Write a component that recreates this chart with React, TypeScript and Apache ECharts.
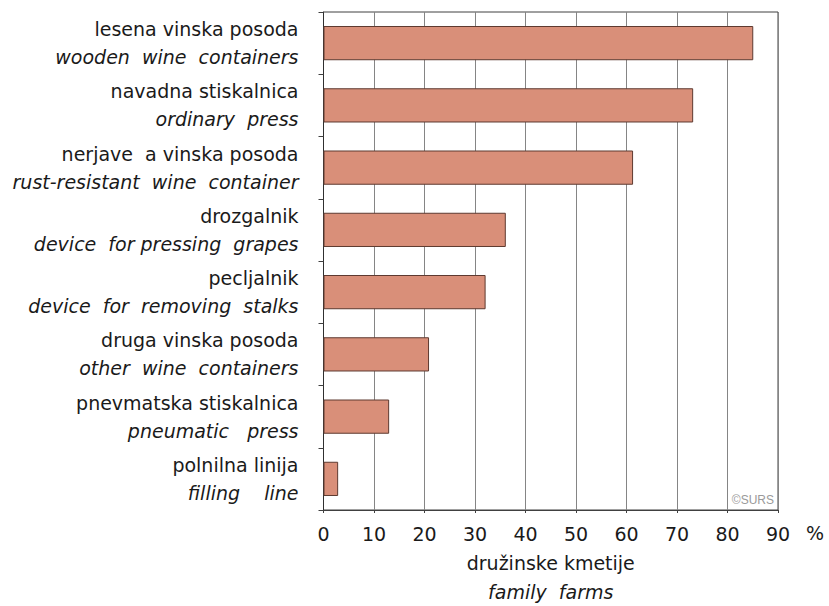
import React, { useEffect, useRef } from "react";
import * as echarts from "echarts";

const S = "\u00a0";
const categoriesSl: string[] = [
  "lesena vinska posoda",
  "navadna stiskalnica",
  "nerjave" + S + S + "a vinska posoda",
  "drozgalnik",
  "pecljalnik",
  "druga vinska posoda",
  "pnevmatska stiskalnica",
  "polnilna linija",
];
const categoriesEn: string[] = [
  "wooden" + S + S + "wine" + S + S + "containers",
  "ordinary" + S + S + "press",
  "rust-resistant" + S + S + "wine" + S + S + "container",
  "device" + S + S + "for" + S + "pressing" + S + S + "grapes",
  "device" + S + S + "for" + S + S + "removing" + S + S + "stalks",
  "other" + S + S + "wine" + S + S + "containers",
  "pneumatic" + S + S + S + "press",
  "filling" + S + S + S + S + "line",
];
const values: number[] = [85.1, 73.2, 61.3, 36.1, 32.1, 20.9, 13.0, 2.9];
const axisTitleSl = "družinske kmetije";
const axisTitleEn = "family" + S + S + "farms";
const unitLabel = "%";
const sourceLabel = "©SURS";

const FONT = "'DejaVu Sans', 'Liberation Sans', Arial, sans-serif";

export default function App() {
  const ref = useRef<HTMLDivElement>(null);
  useEffect(() => {
    document.body.style.margin = "0";
    if (!ref.current) return;
    const chart = echarts.init(ref.current, null, { renderer: "svg" });
    const cats = categoriesSl.map((s, i) => s + "\n" + categoriesEn[i]);
    chart.setOption({
      animation: false,
      backgroundColor: "#ffffff",
      grid: {
        left: 323.5,
        right: 51,
        top: 12,
        bottom: 91,
        show: true,
        borderColor: "#404040",
        borderWidth: 1,
        backgroundColor: "transparent",
      },
      xAxis: {
        type: "value",
        min: 0,
        max: 90,
        interval: 10,
        axisLine: { show: true, lineStyle: { color: "#404040", width: 1 } },
        axisTick: { show: true, length: 3, lineStyle: { color: "#404040" } },
        splitLine: { show: true, lineStyle: { color: "#858585", width: 1 } },
        axisLabel: {
          margin: 14,
          fontFamily: FONT,
          fontSize: 19,
          color: "#1a1a1a",
        },
        name: "{a|" + axisTitleSl + "}\n{b|" + axisTitleEn + "}",
        nameLocation: "middle",
        nameGap: 38,
        nameTextStyle: {
          rich: {
            a: { fontFamily: FONT, fontSize: 19, color: "#1a1a1a", lineHeight: 29 },
            b: { fontFamily: FONT, fontSize: 19, fontStyle: "italic", color: "#1a1a1a", lineHeight: 29 },
          },
        },
      },
      yAxis: {
        type: "category",
        inverse: true,
        data: cats,
        axisLine: { show: true, lineStyle: { color: "#303030", width: 1 } },
        axisTick: { show: true, length: 5, lineStyle: { color: "#404040" } },
        axisLabel: {
          margin: 25,
          align: "right",
          formatter: (v: string) => {
            const [a, b] = v.split("\n");
            return "{a|" + a + "}\n{b|" + b + "}";
          },
          rich: {
            a: { fontFamily: FONT, fontSize: 19, color: "#1a1a1a", lineHeight: 28, align: "right" },
            b: { fontFamily: FONT, fontSize: 19, fontStyle: "italic", color: "#1a1a1a", lineHeight: 28, align: "right" },
          },
        },
      },
      series: [
        {
          type: "bar",
          data: values,
          barCategoryGap: "45%",
          itemStyle: {
            color: "#d98f79",
            borderColor: "#5e3a30",
            borderWidth: 1,
          },
        },
      ],
      graphic: [
        {
          type: "text",
          x: 806,
          y: 523,
          style: {
            text: unitLabel,
            fontFamily: FONT,
            fontSize: 19,
            fill: "#1a1a1a",
            verticalAlign: "top",
          },
        },
        {
          type: "text",
          x: 774,
          y: 500,
          style: {
            text: sourceLabel,
            fontFamily: "'Liberation Sans', Arial, sans-serif",
            fontSize: 12,
            fill: "#9a9a9a",
            align: "right",
            verticalAlign: "middle",
          },
        },
      ],
    });
    return () => chart.dispose();
  }, []);
  return (
    <div
      ref={ref}
      style={{ position: "absolute", left: 0, top: 0, width: 829, height: 606 }}
    />
  );
}
